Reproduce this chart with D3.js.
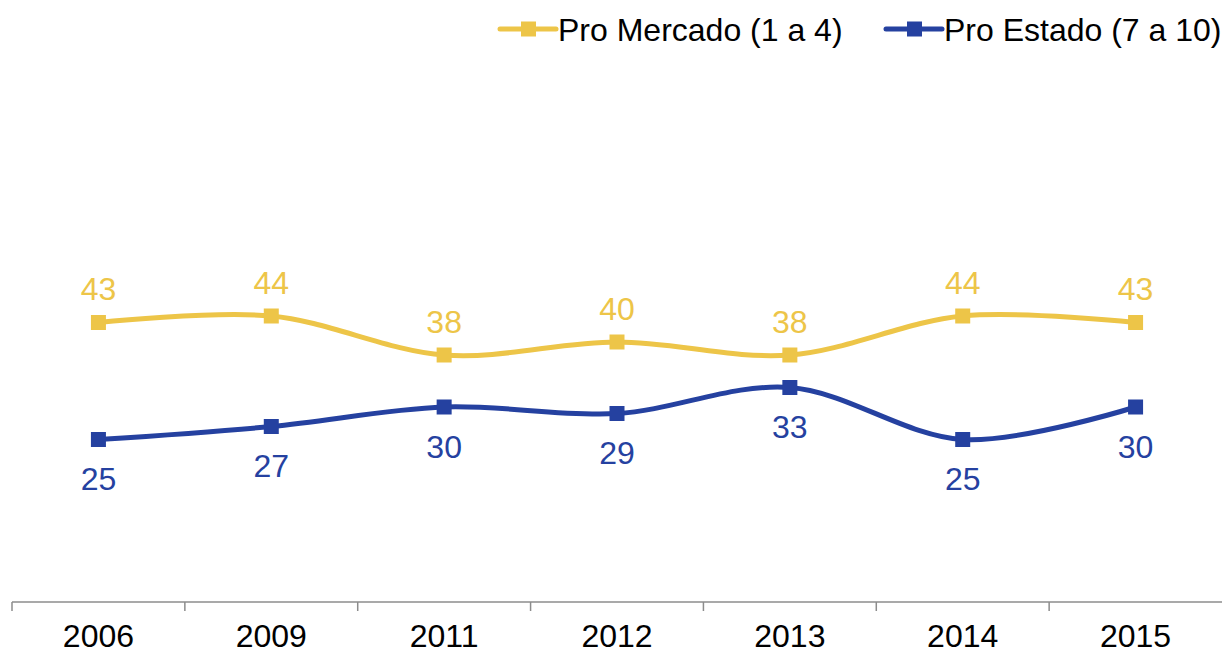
<!DOCTYPE html>
<html>
<head>
<meta charset="utf-8">
<script src="https://d3js.org/d3.v7.min.js"></script>
<style>
  body { margin: 0; background: #fff; }
  svg text { font-family: "Liberation Sans", Arial, sans-serif; }
</style>
</head>
<body>
<svg id="chart" width="1222" height="654"></svg>
<script>
// data
const years = ["2006", "2009", "2011", "2012", "2013", "2014", "2015"];
const proMercado = [43, 44, 38, 40, 38, 44, 43];
const proEstado = [25, 27, 30, 29, 33, 25, 30];
const seriesNames = ["Pro Mercado (1 a 4)", "Pro Estado (7 a 10)"];

const yellow = "#EDC548";
const blue = "#2541A0";

const svg = d3.select("#chart");
const width = 1222;
const axisY = 602;
const fontSize = 32;

const x = d3.scaleBand().domain(years).range([12, width]);
const y = d3.scaleLinear().domain([0, 80]).range([axisY, axisY - 80 * 6.5]);

// x axis
const xAxis = svg.append("g")
  .attr("transform", `translate(0,${axisY})`)
  .call(d3.axisBottom(x).tickSize(0).tickPadding(0));
xAxis.select(".domain").attr("stroke", "#8c8c8c").attr("stroke-width", 1.5)
  .attr("d", `M12,0H${width}`);
xAxis.selectAll(".tick text")
  .attr("y", 45)
  .attr("dy", null)
  .attr("font-size", fontSize)
  .attr("font-family", "Liberation Sans, Arial, sans-serif")
  .attr("fill", "#000");

// tick marks between categories
const bounds = years.map((d) => x(d));
svg.append("g")
  .selectAll("line")
  .data(bounds)
  .enter()
  .append("line")
  .attr("x1", (d) => d)
  .attr("x2", (d) => d)
  .attr("y1", axisY)
  .attr("y2", axisY + 9)
  .attr("stroke", "#8c8c8c")
  .attr("stroke-width", 1.5);

const cx = (d, i) => x(years[i]) + x.bandwidth() / 2;

const line = d3.line()
  .x(cx)
  .y((d) => y(d))
  .curve(d3.curveCardinal.tension(0));

const drawSeries = (values, color, labelOffset) => {
  const g = svg.append("g");
  g.append("path")
    .datum(values)
    .attr("fill", "none")
    .attr("stroke", color)
    .attr("stroke-width", 5)
    .attr("d", line);
  g.selectAll("rect")
    .data(values)
    .enter()
    .append("rect")
    .attr("x", (d, i) => cx(d, i) - 7.5)
    .attr("y", (d) => y(d) - 7.5)
    .attr("width", 15)
    .attr("height", 15)
    .attr("fill", color);
  g.selectAll("text")
    .data(values)
    .enter()
    .append("text")
    .attr("x", cx)
    .attr("y", (d) => y(d) + labelOffset)
    .attr("text-anchor", "middle")
    .attr("font-size", fontSize)
    .attr("fill", color)
    .text((d) => d);
};

drawSeries(proMercado, yellow, -22.5);
drawSeries(proEstado, blue, 50.5);

// legend
const legend = [
  { name: seriesNames[0], color: yellow, x: 500 },
  { name: seriesNames[1], color: blue, x: 886 },
];
legend.forEach((l) => {
  const g = svg.append("g").attr("transform", `translate(${l.x},29)`);
  g.append("line").attr("x1", 0).attr("x2", 56).attr("y1", 0).attr("y2", 0)
    .attr("stroke", l.color).attr("stroke-width", 5).attr("stroke-linecap", "round");
  g.append("rect").attr("x", 21).attr("y", -7.5).attr("width", 15).attr("height", 15)
    .attr("fill", l.color);
  g.append("text").attr("x", 58).attr("y", 11.5).attr("font-size", fontSize)
    .attr("fill", "#000").text(l.name);
});
</script>
</body>
</html>
